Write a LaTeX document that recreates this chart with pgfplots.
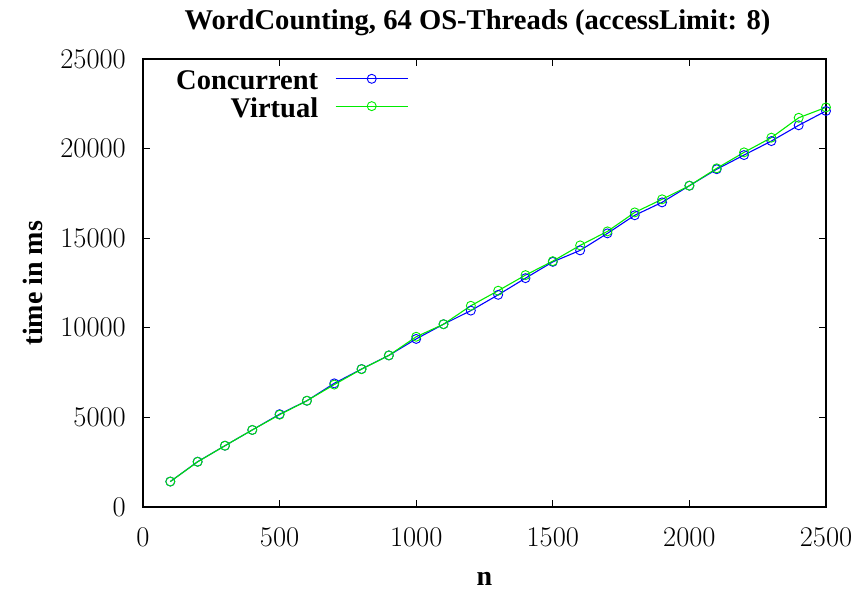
\documentclass[border=0pt]{standalone}
\usepackage{fontspec}
\setmainfont{Latin Modern Roman}
\newfontfamily\tnr{Liberation Serif}
\usepackage{pgfplots}
\pgfplotsset{compat=1.18}
\definecolor{gpblue}{RGB}{0,0,255}
\definecolor{gpgreen}{RGB}{0,235,0}
\begin{document}
\begin{tikzpicture}
\begin{axis}[
  at={(0pt,0pt)}, anchor=south west,
  scale only axis, width=683pt, height=448pt,
  xmin=0, xmax=2500, ymin=0, ymax=25000,
  xtick={0,500,...,2500}, ytick={0,5000,...,25000},
  scaled ticks=false,
  /pgf/number format/set thousands separator={},
  /pgf/number format/assume math mode=true,
  tick label style={font=\fontsize{28.5}{32}\selectfont},
  xticklabel style={inner sep=0pt, yshift=-20pt},
  yticklabel style={inner sep=0pt, xshift=-17pt},
  major tick length=7pt,
  tick style={black, line width=0.8pt},
  axis line style={line width=1.3pt},
  title={WordCounting, 64 OS-Threads (accessLimit: 8)},
  title style={font=\tnr\bfseries\fontsize{28.6}{32}\selectfont, at={(axis description cs:0.4898,1.067)}, anchor=center, inner sep=0pt},
  xlabel={n}, ylabel={time in ms},
  label style={font=\tnr\bfseries\fontsize{28}{32}\selectfont},
  xlabel style={at={(axis description cs:0.5,-0.1605)}, anchor=center, inner sep=0pt},
  ylabel style={at={(axis description cs:-0.161,0.5)}, anchor=center, inner sep=0pt},
  legend plot pos=right,
  legend cell align=right,
  legend style={draw=none, fill=none, inner sep=0pt, row sep=6.5pt, column sep=17pt,
    nodes={inner sep=0pt},
    font=\tnr\bfseries\fontsize{28.5}{32}\selectfont,
    at={(axis description cs:0.3887,0.9745)}, anchor=north east},
  legend image code/.code={\draw[mark repeat=2,mark phase=2,#1] plot coordinates {(0pt,2pt)(36pt,2pt)(72pt,2pt)};},
]
\addplot[gpblue, line width=1.1pt, mark=o, mark size=4.5pt, mark options={line width=0.9pt}] coordinates {
(100,1420) (200,2530) (300,3420) (400,4300) (500,5180) (600,5930) (700,6900) (800,7700) (900,8460) (1000,9380)
(1100,10200) (1200,10960) (1300,11840) (1400,12770) (1500,13680) (1600,14320) (1700,15270) (1800,16280) (1900,17000) (2000,17930)
(2100,18850) (2200,19640) (2300,20420) (2400,21300) (2500,22100)};
\addlegendentry{Concurrent}
\addplot[gpgreen, line width=1.1pt, mark=o, mark size=4.5pt, mark options={line width=0.9pt}] coordinates {
(100,1420) (200,2520) (300,3420) (400,4300) (500,5150) (600,5930) (700,6830) (800,7690) (900,8460) (1000,9500)
(1100,10200) (1200,11230) (1300,12070) (1400,12940) (1500,13720) (1600,14600) (1700,15380) (1800,16440) (1900,17170) (2000,17930)
(2100,18900) (2200,19790) (2300,20610) (2400,21720) (2500,22300)};
\addlegendentry{Virtual}
\end{axis}
\pgfresetboundingbox
\useasboundingbox (-143pt,-85pt) rectangle (713pt,507pt);
\end{tikzpicture}
\end{document}
